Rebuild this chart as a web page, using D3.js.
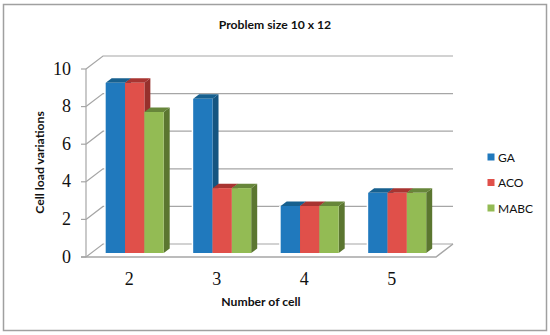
<!DOCTYPE html>
<html>
<head>
<meta charset="utf-8">
<script src="https://cdn.jsdelivr.net/npm/d3@7"></script>
<style>
  html, body { margin: 0; padding: 0; background: #fff; }
  svg { display: block; }
  text { fill: #111; }
</style>
</head>
<body>
<script>
// Data
const categories = ["2", "3", "4", "5"];
const seriesNames = ["GA", "ACO", "MABC"];
const gaValues = [9.05, 8.2, 2.5, 3.2];
const acoValues = [9.05, 3.45, 2.5, 3.2];
const mabcValues = [7.5, 3.45, 2.5, 3.2];
const yTicks = [0, 2, 4, 6, 8, 10];

// Chart size
const w = 550, h = 335;
const plotLeft = 86, plotRight = 436, plotTop = 69, plotBottom = 257;
const depthX = 17, depthY = 13;   // wall offset
const barDX = 6, barDY = 4.5, barLift = 4;

// Colors: front, top, side
const colors = {
  GA: ["#2079bd", "#17608f", "#155581"],
  ACO: ["#e0504a", "#a83431", "#96302c"],
  MABC: ["#93bb54", "#67863a", "#5b7630"]
};
const gridColor = "#a6a6a6";
const labelFont = "bold 12.2px Lato";

const svg = d3.select("body").append("svg")
  .attr("width", w)
  .attr("height", h);

// Outer frame
svg.append("rect")
  .attr("x", 3.5).attr("y", 4.5)
  .attr("width", 543).attr("height", 326)
  .attr("fill", "#fff")
  .attr("stroke", "#a0a0a0")
  .attr("stroke-width", 1.5);

// Scales
const x = d3.scaleBand().domain(categories).range([plotLeft, plotRight]);
const xInner = d3.scaleBand().domain(seriesNames)
  .range([x.bandwidth() * 0.225, x.bandwidth() * 0.888]);
const y = d3.scaleLinear().domain([0, 10]).range([plotBottom, plotTop]);

const line = d3.line();

// Gridlines with the slanted side wall piece
yTicks.forEach(t => {
  svg.append("path")
    .attr("d", line([[plotLeft, y(t)], [plotLeft + depthX, y(t) - depthY], [plotRight + depthX, y(t) - depthY]]))
    .attr("fill", "none")
    .attr("stroke", gridColor)
    .attr("stroke-width", 1.2);
});

// Floor front edge and right edge
svg.append("path")
  .attr("d", line([[plotLeft - 5, plotBottom], [plotRight, plotBottom], [plotRight + depthX, plotBottom - depthY]]))
  .attr("fill", "none")
  .attr("stroke", gridColor)
  .attr("stroke-width", 1.5);

// Y axis line and ticks
svg.append("path")
  .attr("d", line([[plotLeft, plotTop], [plotLeft, plotBottom]]))
  .attr("stroke", gridColor)
  .attr("stroke-width", 1.2);

svg.selectAll(".tick-mark")
  .data(yTicks)
  .enter()
  .append("line")
  .attr("class", "tick-mark")
  .attr("x1", plotLeft - 5)
  .attr("x2", plotLeft)
  .attr("y1", d => y(d))
  .attr("y2", d => y(d))
  .attr("stroke", gridColor)
  .attr("stroke-width", 1.2);

svg.selectAll(".y-label")
  .data(yTicks)
  .enter()
  .append("text")
  .attr("class", "y-label")
  .attr("x", plotLeft - 15)
  .attr("y", d => y(d) + 5.5)
  .attr("text-anchor", "end")
  .style("font", "18px 'Liberation Serif'")
  .text(d => d);

// Bars, the front face stands on the raised base
const seriesValues = [gaValues, acoValues, mabcValues];

// thin white edge behind each bar
seriesNames.forEach((name, s) => {
  categories.forEach((cat, i) => {
    svg.append("rect")
      .attr("x", x(cat) + xInner(name) - 1.5)
      .attr("y", y(seriesValues[s][i]) - barLift)
      .attr("width", xInner.bandwidth() + 3)
      .attr("height", y(0) - y(seriesValues[s][i]) + 1)
      .attr("fill", "#fff");
  });
});

seriesNames.forEach((name, s) => {
  const c = colors[name];
  categories.forEach((cat, i) => {
    const x0 = x(cat) + xInner(name);
    const x1 = x0 + xInner.bandwidth();
    const y1 = plotBottom - barLift;
    const y0 = y(seriesValues[s][i]) - barLift;
    const g = svg.append("g");
    g.append("path") // side
      .attr("d", line([[x1, y0], [x1 + barDX, y0 - barDY], [x1 + barDX, y1 - barDY], [x1, y1]]) + "Z")
      .attr("fill", c[2]);
    g.append("path") // top
      .attr("d", line([[x0, y0], [x0 + barDX, y0 - barDY], [x1 + barDX, y0 - barDY], [x1, y0]]) + "Z")
      .attr("fill", c[1]);
    g.append("rect") // front
      .attr("x", x0)
      .attr("y", y0)
      .attr("width", x1 - x0)
      .attr("height", y1 - y0)
      .attr("fill", c[0]);
  });
});

// Category labels
svg.selectAll(".x-label")
  .data(categories)
  .enter()
  .append("text")
  .attr("class", "x-label")
  .attr("x", d => x(d) + x.bandwidth() / 2 - 0.5)
  .attr("y", 284.5)
  .attr("text-anchor", "middle")
  .style("font", "18px 'Liberation Serif'")
  .text(d => d);

// Titles
svg.append("text")
  .attr("x", 275).attr("y", 29)
  .attr("text-anchor", "middle")
  .style("font", labelFont)
  .text("Problem size 10 x 12");

svg.append("text")
  .attr("x", 261).attr("y", 306)
  .attr("text-anchor", "middle")
  .style("font", labelFont)
  .text("Number of cell");

svg.append("text")
  .attr("transform", "translate(43.5,162.5) rotate(-90)")
  .attr("text-anchor", "middle")
  .style("font", labelFont)
  .text("Cell load variations");

// Legend
const legendY = d3.scalePoint().domain(seriesNames).range([157, 208]);

svg.selectAll(".legend-swatch")
  .data(seriesNames)
  .enter()
  .append("rect")
  .attr("class", "legend-swatch")
  .attr("x", 487.5)
  .attr("y", d => legendY(d) - 3.5)
  .attr("width", 7)
  .attr("height", 7)
  .attr("fill", d => colors[d][0]);

svg.selectAll(".legend-text")
  .data(seriesNames)
  .enter()
  .append("text")
  .attr("class", "legend-text")
  .attr("x", 498)
  .attr("y", d => legendY(d) + 4.5)
  .style("font", "12px Lato")
  .text(d => d);
</script>
</body>
</html>
